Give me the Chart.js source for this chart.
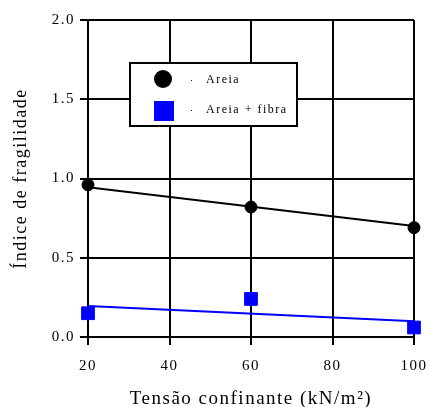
<!DOCTYPE html>
<html>
<head>
<meta charset="utf-8">
<script src="https://cdn.jsdelivr.net/npm/chart.js@4"></script>
<style>
  html, body { margin: 0; padding: 0; background: #fff; }
  #wrap { width: 430px; height: 407px; }
</style>
</head>
<body>
<div id="wrap"><canvas id="chart" width="430" height="407"></canvas></div>
<script>
// values
const pressures = [20, 60, 100];
const areia = [0.96, 0.82, 0.69];
const areiaFibra = [0.15, 0.24, 0.06];
// fitted trend lines (endpoints)
const trendX = [20, 100];
const areiaTrend = [0.945, 0.70];
const fibraTrend = [0.195, 0.10];
const xTicks = [20, 40, 60, 80, 100];
const yTicks = [0.0, 0.5, 1.0, 1.5, 2.0];

const toPts = (xs, ys) => xs.map((x, i) => ({ x: x, y: ys[i] }));
const serif = "'Liberation Serif', 'DejaVu Serif', serif";

// the reference text is spaced out a bit
const spacing = {
  id: "spacing",
  beforeLayout(chart) { chart.ctx.letterSpacing = "1.5px"; },
  beforeDraw(chart) { chart.ctx.letterSpacing = "1.5px"; }
};

// legend drawn as a white box over the grid
const boxLegend = {
  id: "boxLegend",
  afterDraw(chart) {
    const ctx = chart.ctx;
    ctx.save();
    ctx.fillStyle = "#fff";
    ctx.fillRect(130, 63, 167, 63);
    ctx.strokeStyle = "#000";
    ctx.lineWidth = 2;
    ctx.strokeRect(130, 63, 167, 63);

    ctx.fillStyle = "#000";
    ctx.beginPath();
    ctx.arc(163, 79, 9, 0, Math.PI * 2);
    ctx.fill();
    ctx.fillStyle = "#0000ff";
    ctx.fillRect(154, 101, 20, 20);
    ctx.fillStyle = "#000080";
    ctx.fillRect(191, 80, 1, 1);
    ctx.fillRect(191, 110, 1, 1);

    ctx.fillStyle = "#000";
    ctx.font = "12px " + serif;
    ctx.letterSpacing = "1.5px";
    ctx.textBaseline = "middle";
    ctx.fillText(chart.data.datasets[0].label, 206, 80);
    ctx.fillText(chart.data.datasets[1].label, 206, 110);
    ctx.restore();
  }
};

new Chart(document.getElementById("chart").getContext("2d"), {
  type: "scatter",
  data: {
    datasets: [
      {
        label: "Areia",
        data: toPts(pressures, areia),
        backgroundColor: "#000",
        borderColor: "#000",
        pointStyle: "circle",
        pointRadius: 6,
        clip: false
      },
      {
        label: "Areia + fibra",
        data: toPts(pressures, areiaFibra),
        backgroundColor: "#0000ff",
        borderColor: "#0000ff",
        pointStyle: "rect",
        pointRadius: 9,
        clip: false
      },
      {
        label: "trend areia",
        data: toPts(trendX, areiaTrend),
        showLine: true,
        borderColor: "#000",
        borderWidth: 2,
        pointRadius: 0
      },
      {
        label: "trend fibra",
        data: toPts(trendX, fibraTrend),
        showLine: true,
        borderColor: "#0000ff",
        borderWidth: 2,
        pointRadius: 0
      }
    ]
  },
  options: {
    responsive: false,
    animation: false,
    layout: { padding: { left: 0, right: 16, top: 20, bottom: 0 } },
    plugins: {
      legend: { display: false },
      tooltip: { enabled: false }
    },
    scales: {
      x: {
        type: "linear",
        min: 20,
        max: 100,
        afterBuildTicks: (s) => { s.ticks = xTicks.map(v => ({ value: v })); },
        afterFit: (s) => { s.height = 70; s.paddingLeft = 0; s.paddingRight = 0; },
        grid: { color: "#000", lineWidth: 2, tickLength: 8 },
        border: { color: "#000", width: 2 },
        ticks: { color: "#000", font: { family: serif, size: 15 }, padding: 12, maxRotation: 0 },
        title: {
          display: true,
          text: "Tensão confinante (kN/m²)",
          color: "#000",
          font: { family: serif, size: 19 },
          padding: { top: 0, bottom: -3 }
        }
      },
      y: {
        min: 0,
        max: 2,
        afterBuildTicks: (s) => { s.ticks = yTicks.map(v => ({ value: v })); },
        afterFit: (s) => { s.width = 88; s.paddingTop = 0; s.paddingBottom = 0; },
        grid: { color: "#000", lineWidth: 2, tickLength: 8 },
        border: { color: "#000", width: 2 },
        ticks: {
          color: "#000",
          font: { family: serif, size: 15 },
          padding: 5,
          callback: (v) => Number(v).toFixed(1)
        },
        title: {
          display: true,
          text: "Índice de fragilidade",
          color: "#000",
          font: { family: serif, size: 18 },
          padding: { top: 10, bottom: 0 }
        }
      }
    }
  },
  plugins: [spacing, boxLegend]
});
</script>
</body>
</html>
